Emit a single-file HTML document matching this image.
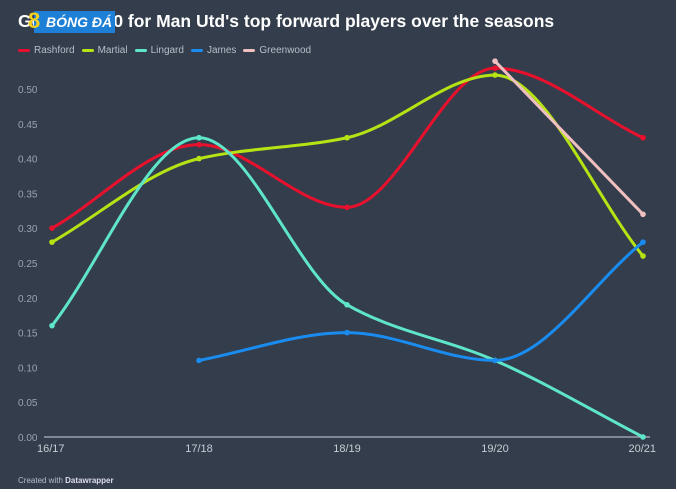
<!DOCTYPE html>
<html><head><meta charset="utf-8"><style>
html,body{margin:0;padding:0;background:#fff;}
#c{position:absolute;left:0;top:0;width:676px;height:489px;background:#333d4c;overflow:hidden;font-family:"Liberation Sans",sans-serif;}
.t{position:absolute;left:18px;top:11px;color:#fff;font-weight:bold;font-size:17.5px;white-space:nowrap;}
.logo{position:absolute;left:34px;top:11px;background:#1d7fd6;color:#fff;font-size:14px;font-weight:bold;font-style:italic;padding:3px 3px 3px 12px;}
.logo b{position:absolute;left:-6px;top:-3px;color:#f5d020;font-size:22px;font-style:normal;}
.lg{position:absolute;top:45px;left:18px;font-size:10px;color:#b8bec8;white-space:nowrap;}
.lg span{display:inline-block;margin-right:7px;}
.lg i{display:inline-block;width:12px;height:3px;border-radius:2px;vertical-align:middle;margin-right:4px;}
</style></head><body><div id="c">
<div class="t">Goals per 90 for Man Utd's top forward players over the seasons</div>
<div class="logo"><b>8</b>BÓNG ĐÁ</div>
<div class="lg"><span><i style="background:#e8112d"></i>Rashford</span><span><i style="background:#b6e314"></i>Martial</span><span><i style="background:#5fe6c8"></i>Lingard</span><span><i style="background:#1a8cf0"></i>James</span><span><i style="background:#f0c0c0"></i>Greenwood</span></div>
<svg id="s" width="676" height="489" style="position:absolute;left:0;top:0" font-family="Liberation Sans, sans-serif"></svg>
</div>
<script>
var X=[52,199,347,495,643];function Y(v){return 437-696*v;}
var s=document.getElementById('s'),h='';
for(var k=0;k<=10;k++){var v=k*0.05;h+='<text x="18" y="'+(Y(v)+4)+'" font-size="10" fill="#9aa3ae">'+v.toFixed(2)+'</text>';}
h+='<line x1="44" x2="650" y1="437" y2="437" stroke="#d0d4da" stroke-width="1"/>';
var lb=['16/17','17/18','18/19','19/20','20/21'];
for(var i=0;i<5;i++){var a=i==0?'start':(i==4?'end':'middle');var xx=i==0?37:(i==4?656:X[i]);h+='<text x="'+xx+'" y="452" font-size="11" fill="#c8cdd4" text-anchor="'+a+'">'+lb[i]+'</text>';}
h+='<text x="18" y="483" font-size="8" fill="#b8bec8">Created with <tspan font-weight="bold" fill="#dde">Datawrapper</tspan></text>';
function mono(pts){var n=pts.length;if(n<2)return'';if(n==2)return'M'+pts[0]+'L'+pts[1];
var d=[],m=[];for(var i=0;i<n-1;i++)d.push((pts[i+1][1]-pts[i][1])/(pts[i+1][0]-pts[i][0]));
m[0]=d[0];m[n-1]=d[n-2];
for(i=1;i<n-1;i++){if(d[i-1]*d[i]<=0)m[i]=0;else m[i]=2/(1/d[i-1]+1/d[i]);}
var p='M'+pts[0];for(i=0;i<n-1;i++){var dx=(pts[i+1][0]-pts[i][0])/3;p+='C'+(pts[i][0]+dx)+','+(pts[i][1]+m[i]*dx)+' '+(pts[i+1][0]-dx)+','+(pts[i+1][1]-m[i+1]*dx)+' '+pts[i+1];}return p;}
var S=[['#e8112d',[.30,.42,.33,.53,.43]],['#b6e314',[.28,.40,.43,.52,.26]],['#5fe6c8',[.16,.43,.19,.11,0]],['#1a8cf0',[null,.11,.15,.11,.28]],['#f0c0c0',[null,null,null,.54,.32]]];
S.forEach(function(q){var pts=[];q[1].forEach(function(v,i){if(v!==null)pts.push([X[i],Y(v)]);});
h+='<path d="'+mono(pts)+'" fill="none" stroke="'+q[0]+'" stroke-width="3" stroke-linecap="round"/>';
pts.forEach(function(p){h+='<circle cx="'+p[0]+'" cy="'+p[1]+'" r="2.8" fill="'+q[0]+'"/>';});});
s.innerHTML=h;
</script></body></html>
